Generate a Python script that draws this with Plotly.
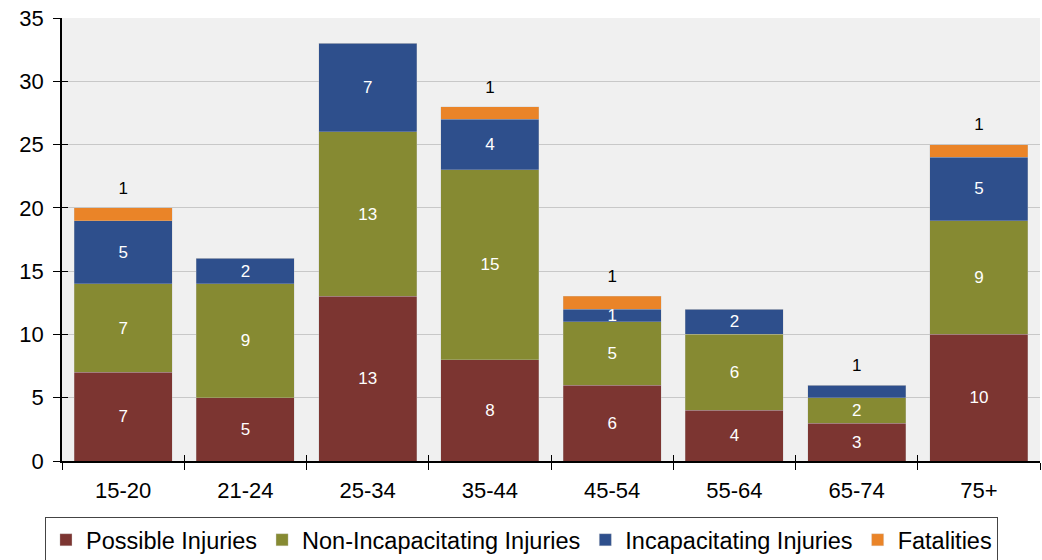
import plotly.graph_objects as go

categories = ["15-20", "21-24", "25-34", "35-44", "45-54", "55-64", "65-74", "75+"]
possible = [7, 5, 13, 8, 6, 4, 3, 10]
non_incap = [7, 9, 13, 15, 5, 6, 2, 9]
incap = [5, 2, 7, 4, 1, 2, 1, 5]
fatal = [1, 0, 0, 1, 1, 0, 0, 1]
y_ticks = [0, 5, 10, 15, 20, 25, 30, 35]

colors = {
    "Possible Injuries": "#7C3531",
    "Non-Incapacitating Injuries": "#868A32",
    "Incapacitating Injuries": "#2E4F8C",
    "Fatalities": "#EA8428",
}

totals = [a + b + c + d for a, b, c, d in zip(possible, non_incap, incap, fatal)]
# incapacitating label of 65-74 shown above the bar (segment too thin)
incap_inside = [str(v) if not (v == 1 and f == 0) else "" for v, f in zip(incap, fatal)]
top_labels = []
for v, f in zip(incap, fatal):
    if f > 0:
        top_labels.append(str(f))
    elif v == 1:
        top_labels.append(str(v))
    else:
        top_labels.append("")

font_main = "Liberation Sans, Arial, sans-serif"
fig = go.Figure()
series = [
    ("Possible Injuries", possible, [str(v) for v in possible]),
    ("Non-Incapacitating Injuries", non_incap, [str(v) for v in non_incap]),
    ("Incapacitating Injuries", incap, incap_inside),
    ("Fatalities", fatal, ["" for _ in fatal]),
]
for name, vals, txt in series:
    fig.add_trace(go.Bar(
        x=categories, y=vals, name=name, text=txt,
        textposition="inside", insidetextanchor="middle",
        textangle=0, constraintext="none",
        textfont=dict(color="white", size=17, family=font_main),
        marker=dict(color=colors[name], line=dict(color="rgba(200,200,200,0.6)", width=0.5)),
        width=0.8, hoverinfo="skip",
    ))

fig.add_trace(go.Scatter(
    x=categories, y=[t + 1.45 for t in totals], text=top_labels, mode="text",
    textfont=dict(color="black", size=17, family=font_main),
    showlegend=False, hoverinfo="skip",
))

# empty trace on overlay axes used only to draw the inner half of the crossing ticks
fig.add_trace(go.Scatter(x=[], y=[], xaxis="x2", yaxis="y2", showlegend=False, hoverinfo="skip"))

n_cat = len(categories)
fig.update_layout(
    barmode="stack",
    width=1042, height=560,
    margin=dict(l=62, r=2, t=18, b=99, autoexpand=False),
    paper_bgcolor="white",
    plot_bgcolor="#F0F0F0",
    font=dict(family=font_main, size=22, color="black"),
    legend=dict(
        orientation="h", x=0.4698, xanchor="center", y=-0.1264, yanchor="top",
        bordercolor="#444444", borderwidth=1, bgcolor="white",
        font=dict(size=23.5, family=font_main), itemwidth=30, tracegroupgap=0,
        traceorder="normal",
    ),
    xaxis=dict(
        showline=True, linecolor="black", linewidth=1.5,
        ticks="outside", ticklen=7, tickcolor="black",
        tickson="boundaries", showgrid=False,
        tickfont=dict(size=22), ticklabelstandoff=9,
        range=[-0.5, n_cat - 0.5], automargin=False,
    ),
    yaxis=dict(
        range=[0, 35], tickvals=y_ticks,
        showline=True, linecolor="black", linewidth=1.5,
        ticks="outside", ticklen=7, tickcolor="black",
        showgrid=True, gridcolor="#C8C8C8", gridwidth=1.2,
        zeroline=False, tickfont=dict(size=22),
        ticklabelstandoff=5, ticklabeloverflow="allow", automargin=False,
    ),
    xaxis2=dict(
        overlaying="x", anchor="y2", range=[-0.5, n_cat - 0.5],
        tickvals=[i - 0.5 for i in range(n_cat + 1)],
        ticks="inside", ticklen=6, tickcolor="black",
        showticklabels=False, showgrid=False, zeroline=False, showline=False,
        automargin=False,
    ),
    yaxis2=dict(
        overlaying="y", anchor="x2", range=[0, 35], tickvals=y_ticks,
        ticks="inside", ticklen=6, tickcolor="black",
        showticklabels=False, showgrid=False, zeroline=False, showline=False,
        automargin=False,
    ),
)

# remove the browser's default page margin so the figure fills the window exactly
fig.write_html(
    "out.html",
    config={"displayModeBar": False},
    post_script="document.body.style.margin='0';",
)
